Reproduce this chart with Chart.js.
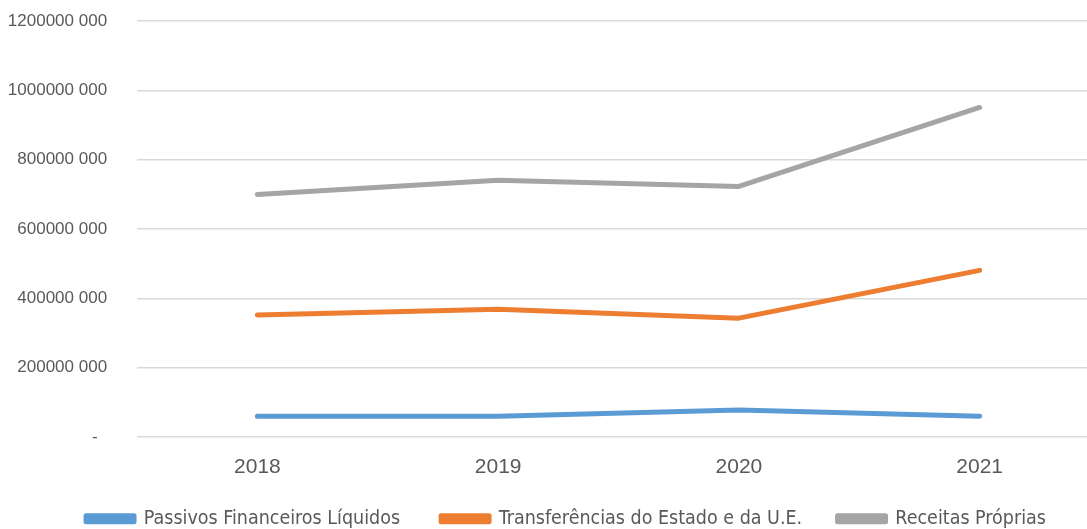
<!DOCTYPE html>
<html>
<head>
<meta charset="utf-8">
<script src="https://cdn.jsdelivr.net/npm/chart.js@4/dist/chart.umd.min.js"></script>
<style>
  html, body { margin: 0; padding: 0; background: #ffffff; overflow: hidden; }
  #wrap { width: 1087px; height: 529px; overflow: hidden; }
  canvas { display: block; }
</style>
</head>
<body>
<div id="wrap"><canvas id="chart" width="1100" height="529"></canvas></div>
<script>
// Years on the category axis
const years = ['2018', '2019', '2020', '2021'];

// Series values (euros)
const passivosFinanceiros = [60000000, 60000000, 78000000, 60000000];
const transferencias = [352000000, 369000000, 343000000, 481000000];
const receitasProprias = [700000000, 741000000, 723000000, 951000000];

// Series names
const seriesNames = ['Passivos Financeiros Líquidos', 'Transferências do Estado e da U.E.', 'Receitas Próprias'];

// Value axis range
const yMin = 0;
const yMax = 1200000000;
const yStep = 200000000;

const colors = ['#5B9BD5', '#ED7D31', '#A5A5A5'];
const seriesData = [passivosFinanceiros, transferencias, receitasProprias];

// Trailing spaces keep the labels clear of the plot area
// without enlarging the axis' own top/bottom padding.
const TICK_GAP = '    ';

function formatValue(v) {
  if (v === 0) return '-' + TICK_GAP + '  ';
  const s = String(Math.round(v));
  return s.slice(0, -3) + ' ' + s.slice(-3) + TICK_GAP;
}

// Extra spacing after each legend entry (spaces), last one has none.
const legendGaps = ['       ', '      ', ''];

const datasets = seriesNames.map((name, i) => ({
  label: name,
  data: seriesData[i],
  borderColor: colors[i],
  backgroundColor: colors[i],
  borderWidth: 5,
  borderCapStyle: 'round',
  borderJoinStyle: 'round',
  pointRadius: 0,
  pointHoverRadius: 0,
  tension: 0,
  fill: false
}));

// Keeps the legend strip compact and nudges it right, under the plot.
const legendTweaks = {
  id: 'legendTweaks',
  afterInit(chart) {
    const lg = chart.legend;
    if (!lg) return;
    const fit = lg.fit.bind(lg);
    lg.fit = function () { fit(); this.height = 22; };
    const draw = lg.draw.bind(lg);
    lg.draw = function () {
      const ctx = this.ctx;
      ctx.save();
      ctx.translate(16, 0);
      draw();
      ctx.restore();
    };
  }
};

new Chart(document.getElementById('chart'), {
  type: 'line',
  data: { labels: years, datasets: datasets },
  plugins: [legendTweaks],
  options: {
    responsive: false,
    animation: false,
    events: [],
    layout: { padding: { top: 21, right: 0, bottom: 0, left: 0 } },
    scales: {
      x: {
        offset: true,
        grid: { display: false },
        border: { display: false },
        ticks: {
          color: '#595959',
          font: { family: 'Liberation Sans', size: 21 },
          padding: 10
        },
        afterFit: (scale) => { scale.height = 70; }
      },
      y: {
        min: yMin,
        max: yMax,
        ticks: {
          stepSize: yStep,
          color: '#595959',
          font: { family: 'Liberation Sans', size: 17 },
          padding: 11,
          callback: (v) => formatValue(v)
        },
        grid: { color: '#D9D9D9', lineWidth: 1.5, drawTicks: false },
        border: { display: false },
        afterFit: (scale) => { scale.width = 137; }
      }
    },
    plugins: {
      legend: {
        position: 'bottom',
        align: 'center',
        labels: {
          boxWidth: 48,
          boxHeight: 6,
          padding: 2,
          color: '#595959',
          font: { family: "'DejaVu Sans Condensed', 'Liberation Sans'", size: 19.5, lineHeight: 1 },
          generateLabels: (chart) => {
            const items = Chart.defaults.plugins.legend.labels.generateLabels(chart);
            items.forEach((it, i) => { it.text = it.text + (legendGaps[i] || ''); });
            return items;
          }
        }
      },
      tooltip: { enabled: false }
    }
  }
});
</script>
</body>
</html>
